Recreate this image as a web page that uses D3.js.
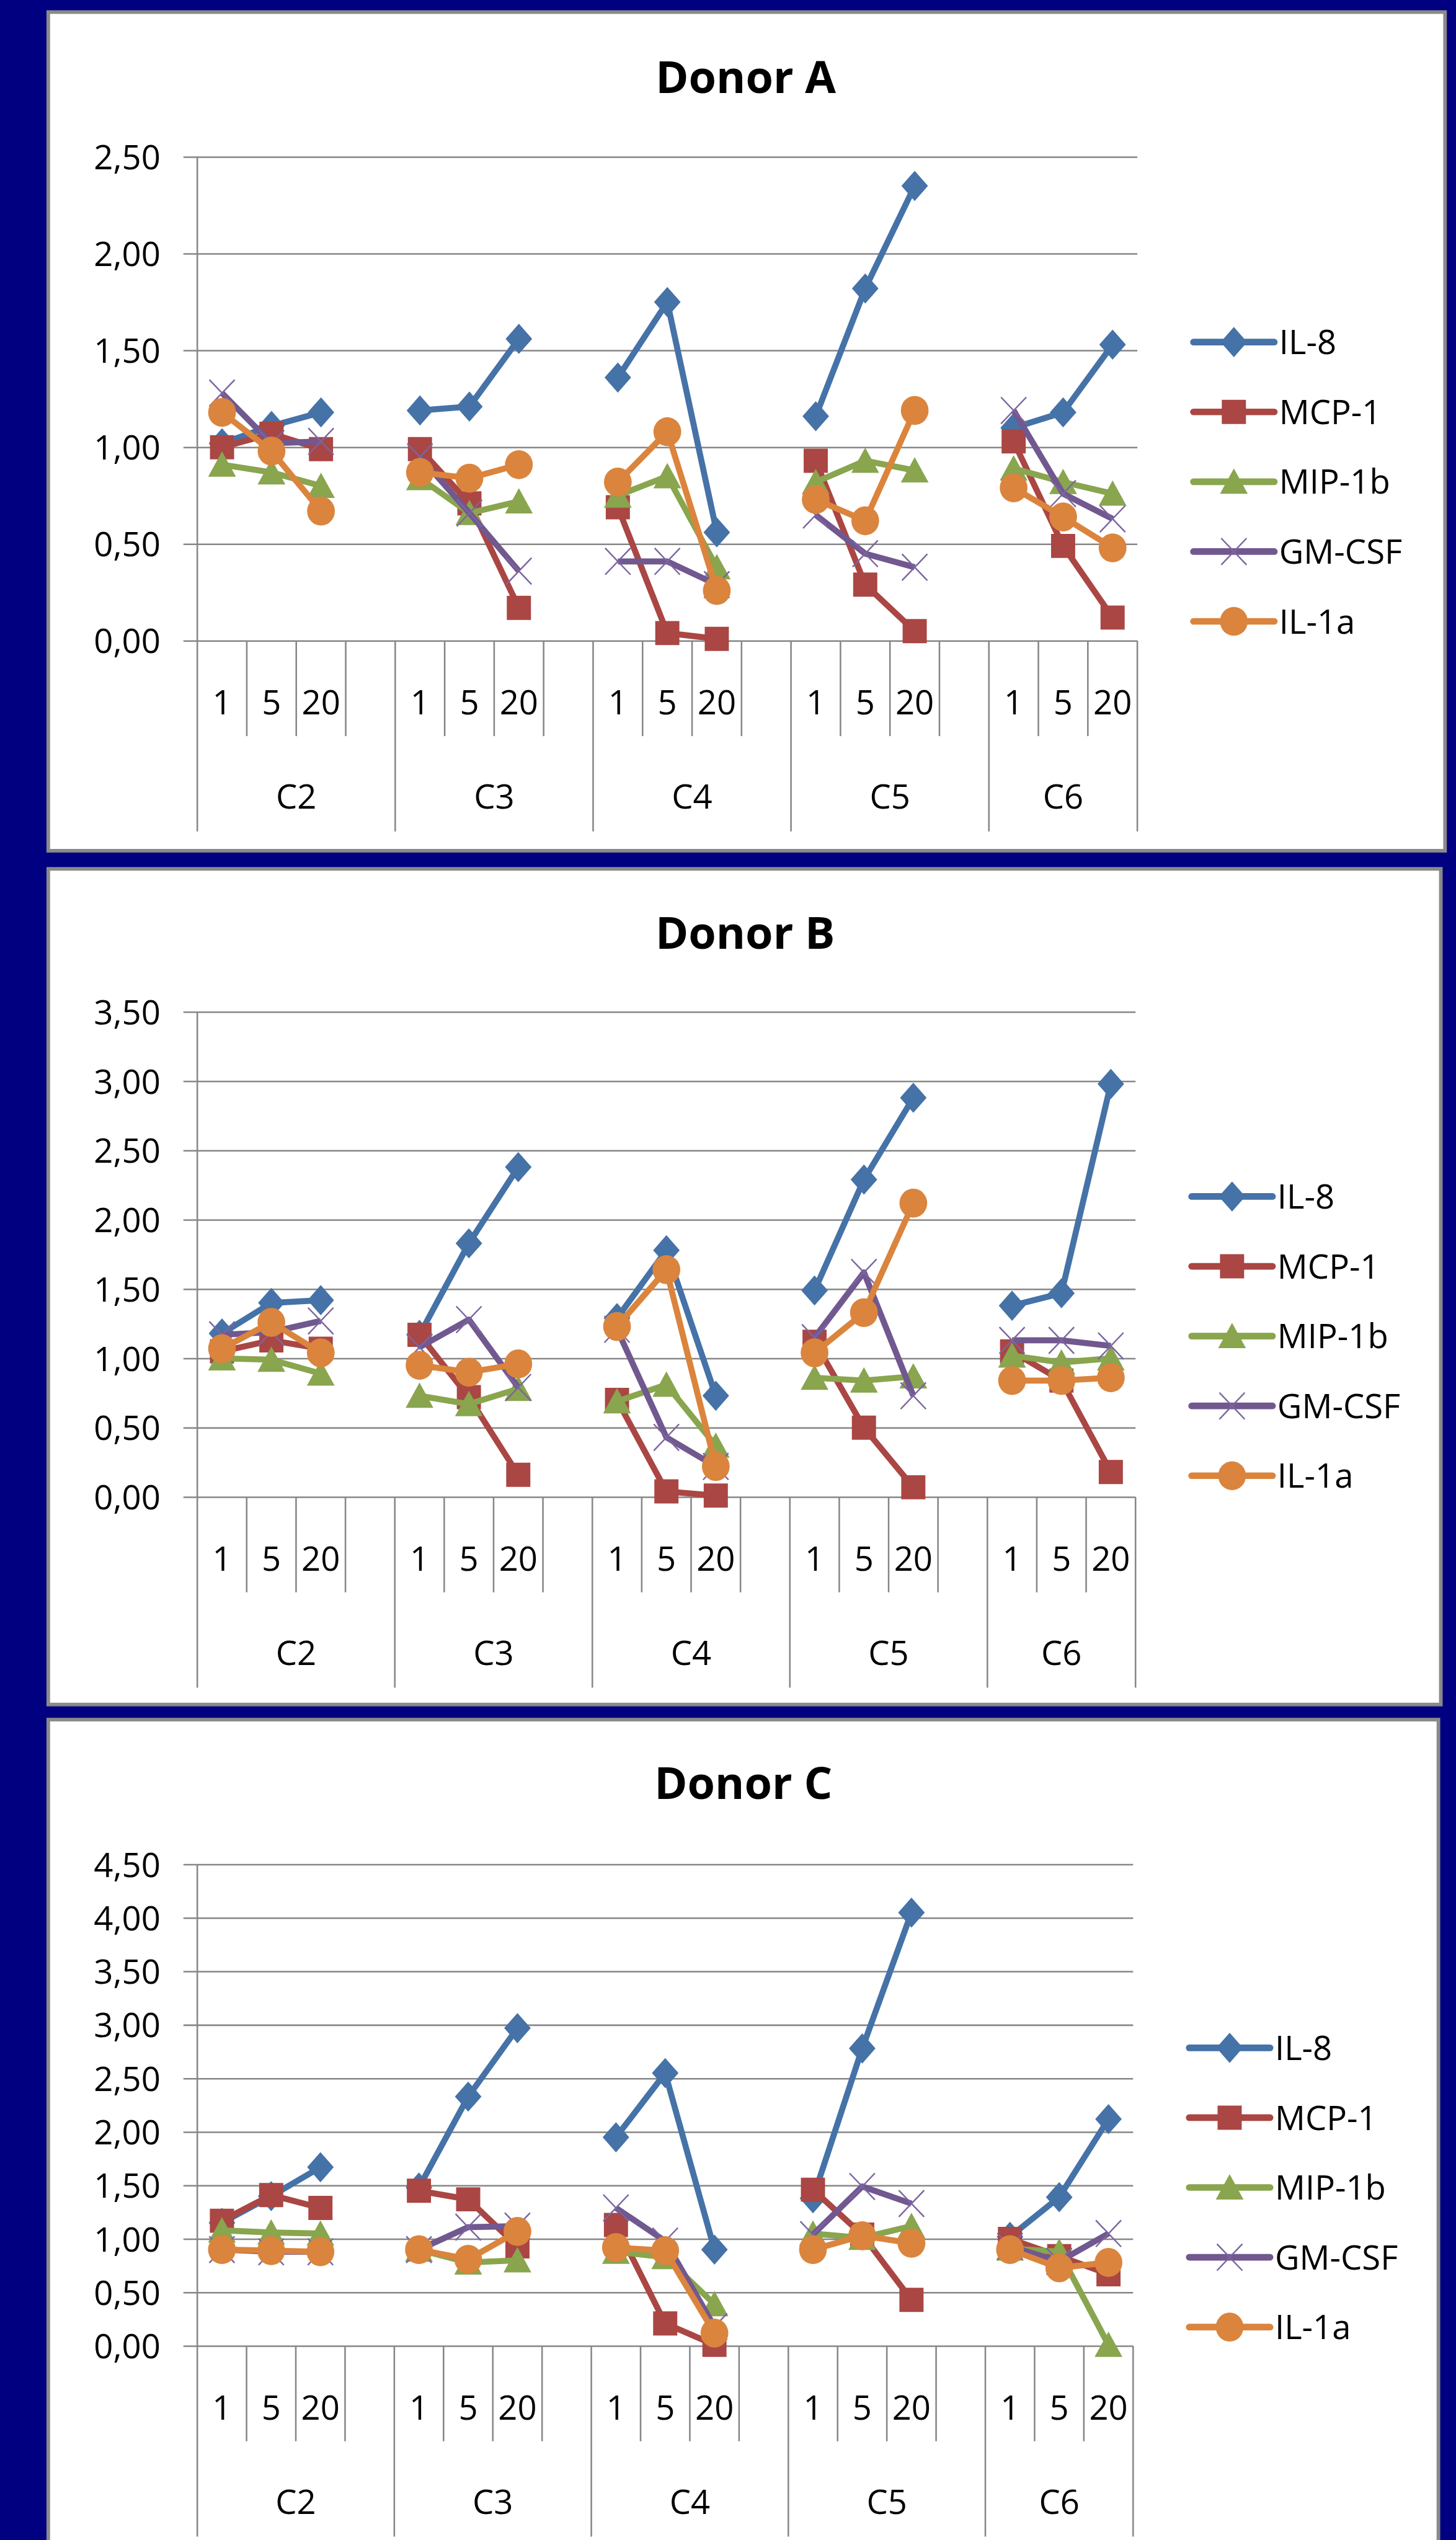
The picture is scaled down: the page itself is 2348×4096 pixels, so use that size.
<!DOCTYPE html>
<html><head><meta charset="utf-8">
<script src="https://cdn.jsdelivr.net/npm/d3@7"></script>
<style>html,body{margin:0;padding:0;background:#000080;overflow:hidden}</style>
</head><body>
<svg id="c" width="2348" height="4096"></svg>
<script>
// ---------- data ----------
const categories = ["C2","C3","C4","C5","C6"];
const doses = ["1","5","20"];
const seriesNames = ["IL-8","MCP-1","MIP-1b","GM-CSF","IL-1a"];
const seriesColors = ["#4572A7","#AA4643","#89A54E","#71588F","#DB843D"];
const donorTitles = ["Donor A","Donor B","Donor C"];
const yTicksA = [0,0.5,1,1.5,2,2.5];
const yTicksB = [0,0.5,1,1.5,2,2.5,3,3.5];
const yTicksC = [0,0.5,1,1.5,2,2.5,3,3.5,4,4.5];

// values ordered C2-1,C2-5,C2-20, C3-1,... C6-20
const IL8_A   = [1.02,1.11,1.18, 1.19,1.21,1.56, 1.36,1.75,0.56, 1.16,1.82,2.35, 1.10,1.18,1.53];
const MCP1_A  = [1.00,1.07,0.99, 0.99,0.71,0.17, 0.69,0.04,0.01, 0.93,0.29,0.05, 1.03,0.49,0.12];
const MIP1b_A = [0.91,0.87,0.80, 0.84,0.66,0.72, 0.75,0.85,0.38, 0.82,0.93,0.88, 0.89,0.82,0.76];
const GMCSF_A = [1.28,1.02,1.03, 0.95,0.66,0.36, 0.41,0.41,0.29, 0.65,0.45,0.38, 1.19,0.76,0.63];
const IL1a_A  = [1.18,0.98,0.67, 0.87,0.84,0.91, 0.82,1.08,0.26, 0.73,0.62,1.19, 0.79,0.64,0.48];

const IL8_B   = [1.18,1.40,1.42, 1.17,1.83,2.38, 1.29,1.78,0.73, 1.49,2.29,2.88, 1.38,1.47,2.98];
const MCP1_B  = [1.05,1.13,1.07, 1.17,0.72,0.16, 0.70,0.04,0.01, 1.12,0.50,0.07, 1.05,0.84,0.18];
const MIP1b_B = [1.00,0.99,0.89, 0.73,0.67,0.78, 0.69,0.81,0.37, 0.86,0.84,0.87, 1.02,0.97,1.00];
const GMCSF_B = [1.17,1.19,1.27, 1.08,1.28,0.79, 1.21,0.43,0.22, 1.15,1.62,0.73, 1.13,1.13,1.09];
const IL1a_B  = [1.07,1.26,1.04, 0.95,0.90,0.96, 1.23,1.64,0.22, 1.04,1.33,2.12, 0.84,0.84,0.86];

const IL8_C   = [1.15,1.40,1.67, 1.48,2.33,2.97, 1.95,2.55,0.90, 1.38,2.78,4.05, 1.02,1.39,2.12];
const MCP1_C  = [1.17,1.41,1.29, 1.45,1.37,0.93, 1.13,0.21,0.01, 1.46,1.04,0.43, 1.00,0.84,0.67];
const MIP1b_C = [1.08,1.06,1.05, 0.90,0.78,0.80, 0.88,0.83,0.39, 1.05,1.01,1.12, 0.91,0.88,0.01];
const GMCSF_C = [0.90,0.88,0.88, 0.90,1.11,1.12, 1.29,0.98,0.18, 1.04,1.49,1.33, 0.93,0.79,1.05];
const IL1a_C  = [0.90,0.89,0.88, 0.90,0.81,1.07, 0.92,0.89,0.12, 0.90,1.03,0.96, 0.90,0.73,0.78];

const donorData = [
  [IL8_A, MCP1_A, MIP1b_A, GMCSF_A, IL1a_A],
  [IL8_B, MCP1_B, MIP1b_B, GMCSF_B, IL1a_B],
  [IL8_C, MCP1_C, MIP1b_C, GMCSF_C, IL1a_C]
];
const donorTicks = [yTicksA, yTicksB, yTicksC];

// ---------- layout (reference pixel space) ----------
const S = 0.973;
const FONT = "'Open Sans', 'Liberation Sans', sans-serif";
const panels = [
  {box:[80,20,2395,1410],  titleX:1236, titleY:154,  x0:327, x1:1885, yZero:1062, yTop:260,  legY0:567},
  {box:[80,1440,2388,2825],titleX:1235, titleY:1572, x0:327, x1:1882, yZero:2481, yTop:1677, legY0:1983},
  {box:[80,2850,2384,4260],titleX:1232, titleY:2981, x0:327, x1:1878, yZero:3888, yTop:3090, legY0:3394}
];
const legStep = 115.7;

const fmt = d3.formatLocale({decimal:",", thousands:".", grouping:[3], currency:["",""]}).format(".2f");

const svg = d3.select("#c");
svg.append("rect").attr("width",2348).attr("height",4096).attr("fill","#000080");
const root = svg.append("g").attr("transform",`scale(${S})`);

// slot keys (with blank spacer slot between groups)
const slotKeys = [];
categories.forEach((c,gi)=>{
  doses.forEach(d=>slotKeys.push(c+"|"+d));
  if (gi < categories.length-1) slotKeys.push(c+"|");
});
const pointKeys = [];
categories.forEach(c=>doses.forEach(d=>pointKeys.push(c+"|"+d)));

function markerPath(type){
  switch(type){
    case 0: return "M0,-25L22,0L0,25L-22,0Z";             // diamond
    case 1: return "M-20,-20H20V20H-20Z";                  // square
    case 2: return "M0,-22L23,20L-23,20Z";                 // triangle
    case 3: return "M-21,-22L21,22M-21,22L21,-22";          // x
    case 4: return "M-23,0A23,24 0 1,0 23,0A23,24 0 1,0 -23,0Z"; // circle
  }
}
function drawMarker(g, type, color, x, y){
  const p = g.append("path").attr("d", markerPath(type)).attr("transform",`translate(${x},${y})`);
  if (type === 3) p.attr("fill","none").attr("stroke","#7B65A0").attr("stroke-width",2.5);
  else p.attr("fill", color);
}

panels.forEach((P, pi)=>{
  const g = root.append("g");
  const [bx0,by0,bx1,by1] = P.box;
  g.append("rect").attr("x",bx0).attr("y",by0).attr("width",bx1-bx0).attr("height",by1-by0)
    .attr("fill","#fff").attr("stroke","#8a8a8a").attr("stroke-width",6);

  g.append("text").attr("x",P.titleX).attr("y",P.titleY).attr("text-anchor","middle")
    .attr("font-family",FONT).attr("font-weight",700).attr("font-size",74).attr("fill","#000")
    .text(donorTitles[pi]);

  const ticks = donorTicks[pi];
  const y = d3.scaleLinear().domain([0, ticks[ticks.length-1]]).range([P.yZero, P.yTop]);
  const x = d3.scaleBand().domain(slotKeys).range([P.x0, P.x1]).paddingInner(0).paddingOuter(0);

  // gridlines + y labels
  const yAxis = d3.axisLeft(y).tickValues(ticks).tickSize(-(P.x1 - (P.x0-23))).tickFormat(fmt).tickPadding(0);
  const ya = g.append("g").attr("transform",`translate(${P.x0-23},0)`).call(yAxis);
  ya.select(".domain").remove();
  ya.selectAll(".tick line").attr("stroke","#868686").attr("stroke-width",2.6);
  ya.selectAll(".tick text").attr("font-family",FONT).attr("font-size",56).attr("fill","#000")
    .attr("x",-38).attr("dy","0.36em");

  // y axis line
  g.append("line").attr("x1",P.x0).attr("x2",P.x0).attr("y1",P.yTop).attr("y2",P.yZero)
    .attr("stroke","#868686").attr("stroke-width",2.6);

  // category ticks
  const bw = x.bandwidth();
  const boundaries = slotKeys.map(k=>x(k)).concat([P.x1]);
  const groupStarts = categories.map(c=>x(c+"|1"));
  boundaries.forEach(bx=>{
    const isGroup = groupStarts.some(s=>Math.abs(s-bx)<0.5) || Math.abs(bx-P.x1)<0.5;
    g.append("line").attr("x1",bx).attr("x2",bx).attr("y1",P.yZero)
      .attr("y2",P.yZero + (isGroup?316:158))
      .attr("stroke","#868686").attr("stroke-width",2.6);
  });
  // inner labels
  pointKeys.forEach(k=>{
    g.append("text").attr("x",x(k)+bw/2).attr("y",P.yZero+122).attr("text-anchor","middle")
      .attr("font-family",FONT).attr("font-size",56).attr("fill","#000").text(k.split("|")[1]);
  });
  // outer labels
  categories.forEach((c,gi)=>{
    const gx0 = x(c+"|1");
    const gx1 = gi < categories.length-1 ? x(categories[gi+1]+"|1") : P.x1;
    g.append("text").attr("x",(gx0+gx1)/2).attr("y",P.yZero+278).attr("text-anchor","middle")
      .attr("font-family",FONT).attr("font-size",56).attr("fill","#000").text(c);
  });

  // series
  const data = donorData[pi];
  data.forEach((vals, si)=>{
    const pts = slotKeys.map(k=>{
      const idx = pointKeys.indexOf(k);
      return {k, v: idx>=0 ? vals[idx] : null};
    });
    const line = d3.line().defined(d=>d.v!==null)
      .x(d=>x(d.k)+bw/2).y(d=>y(d.v));
    g.append("path").attr("d",line(pts)).attr("fill","none")
      .attr("stroke",seriesColors[si]).attr("stroke-width",10).attr("stroke-linejoin","round");
    pts.filter(d=>d.v!==null).forEach(d=>drawMarker(g, si, seriesColors[si], x(d.k)+bw/2, y(d.v)));
  });

  // legend
  seriesNames.forEach((name, si)=>{
    const ly = P.legY0 + si*legStep;
    const lx0 = P.x1 + 93, lx1 = P.x1 + 227;
    g.append("line").attr("x1",lx0).attr("x2",lx1).attr("y1",ly).attr("y2",ly)
      .attr("stroke",seriesColors[si]).attr("stroke-width",11).attr("stroke-linecap","round");
    drawMarker(g, si, seriesColors[si], (lx0+lx1)/2, ly);
    g.append("text").attr("x",lx1+8).attr("y",ly).attr("dy","0.36em")
      .attr("font-family",FONT).attr("font-size",56).attr("fill","#000").text(name);
  });
});
</script>
</body></html>
